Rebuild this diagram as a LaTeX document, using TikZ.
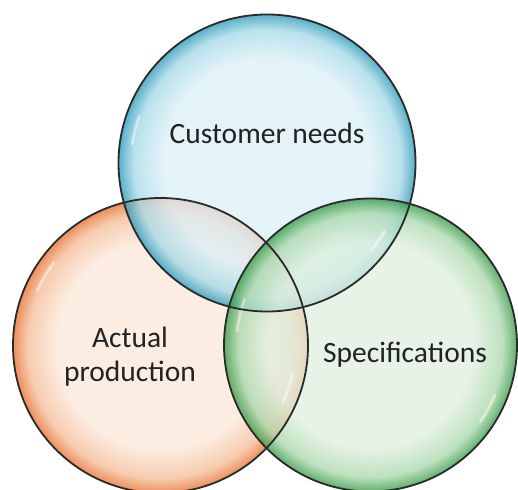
\documentclass[tikz,border=0pt]{standalone}
\usepackage{fontspec}
\setmainfont{Carlito}
\definecolor{bluein}{HTML}{DDF0F7}
\definecolor{bluemid}{HTML}{A6D9E8}
\definecolor{blueout}{HTML}{2A9AB8}
\definecolor{orgin}{HTML}{FCE9DC}
\definecolor{orgmid}{HTML}{F5BE9A}
\definecolor{orgout}{HTML}{E8702E}
\definecolor{grnin}{HTML}{E0F0E0}
\definecolor{grnmid}{HTML}{ACD9AD}
\definecolor{grnout}{HTML}{359A45}
\definecolor{rimline}{HTML}{2A2A2A}
\definecolor{txt}{HTML}{222222}
\pgfdeclareradialshading{blueball}{\pgfpoint{0bp}{0bp}}{color(0bp)=(bluein); color(17.5bp)=(bluein); color(22.5bp)=(bluemid); color(25bp)=(blueout); color(50bp)=(blueout)}
\pgfdeclareradialshading{orgball}{\pgfpoint{0bp}{0bp}}{color(0bp)=(orgin); color(17.5bp)=(orgin); color(22.5bp)=(orgmid); color(25bp)=(orgout); color(50bp)=(orgout)}
\pgfdeclareradialshading{grnball}{\pgfpoint{0bp}{0bp}}{color(0bp)=(grnin); color(17.5bp)=(grnin); color(22.5bp)=(grnmid); color(25bp)=(grnout); color(50bp)=(grnout)}
\tikzset{
  bubble/.style={fill opacity=0.78},
  rim/.style={draw=rimline, line width=1.8pt},
  gloss/.style={draw=white, line width=3pt, line cap=round, opacity=0.45},
  label/.style={text=txt, font=\fontsize{29.5}{34}\selectfont, align=center}
}
\begin{document}
\begin{tikzpicture}[x=1pt,y=1pt]
\clip (0,0) rectangle (518,489);
\fill[white] (0,0) rectangle (518,489);
% centres (y up)
\coordinate (cb) at (267,326);
\coordinate (co) at (160.5,143.5);
\coordinate (cg) at (370.5,144);
% fills
\path[bubble, shading=orgball] (co) circle (147.5);
\path[bubble, shading=blueball] (cb) circle (148.5);
\path[bubble, shading=grnball] (cg) circle (146.5);
% gloss highlights
\draw[gloss] ([shift={(160:136)}]cb) arc (160:172:136);
\draw[gloss] ([shift={(-40:136)}]cb) arc (-40:-30:136);
\draw[gloss] ([shift={(142:135)}]co) arc (142:156:135);
\draw[gloss] ([shift={(-25:135)}]co) arc (-25:-12:135);
\draw[gloss] ([shift={(160:134)}]cg) arc (160:174:134);
\draw[gloss] ([shift={(-35:134)}]cg) arc (-35:-22:134);
% rims
\draw[rim] (co) circle (147.5);
\draw[rim] (cb) circle (148.5);
\draw[rim] (cg) circle (146.5);
% labels
\node[label] (tb) at (267,356) {Customer needs};
\node[label] (to) at (130,132) {Actual\\production};
\node[label] (tg) at (405,134) {Specifications};
\end{tikzpicture}
\end{document}
